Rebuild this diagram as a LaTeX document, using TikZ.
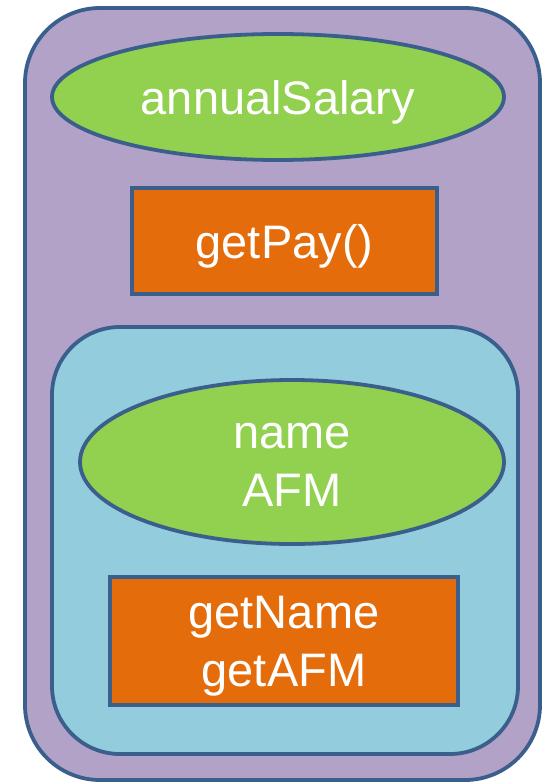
\documentclass[tikz,border=0pt]{standalone}
\usepackage{fontspec}
\setmainfont{Liberation Sans}
\usetikzlibrary{shapes.geometric}
\definecolor{edge}{HTML}{3A5F8C}
\definecolor{purp}{HTML}{B3A2C7}
\definecolor{lblue}{HTML}{93CDDD}
\definecolor{lgreen}{HTML}{92D050}
\definecolor{orng}{HTML}{E46C0A}
\tikzset{
  box/.style={draw=edge, line width=3.8pt, inner sep=0pt, outer sep=0pt},
  txt/.style={text=white, align=center, font=\fontsize{47}{58}\selectfont, inner sep=0pt, yshift=-5pt},
  oval/.style={box, ellipse, fill=lgreen},
  meth/.style={box, rectangle, fill=orng},
}
\begin{document}
\begin{tikzpicture}[x=1pt,y=-1pt]
\useasboundingbox (0,0) rectangle (545,783);
\node[box, fill=purp, rounded corners=75pt, minimum width=515pt, minimum height=772pt] (outer) at (282.5,394) {};
\node[box, fill=lblue, rounded corners=68pt, minimum width=466pt, minimum height=427pt] (inner) at (285,540.5) {};
\node[oval, minimum width=452pt, minimum height=126pt, label={[txt]center:annualSalary}] (salary) at (278,97) {};
\node[meth, minimum width=305pt, minimum height=106pt, label={[txt]center:getPay()}] (getpay) at (284.5,241) {};
\node[oval, minimum width=424pt, minimum height=164pt, label={[txt,yshift=2pt]center:name\\AFM}] (nameafm) at (292,462) {};
\node[meth, minimum width=348pt, minimum height=128pt, label={[txt]center:getName\\getAFM}] (getters) at (284,641) {};
\end{tikzpicture}
\end{document}
